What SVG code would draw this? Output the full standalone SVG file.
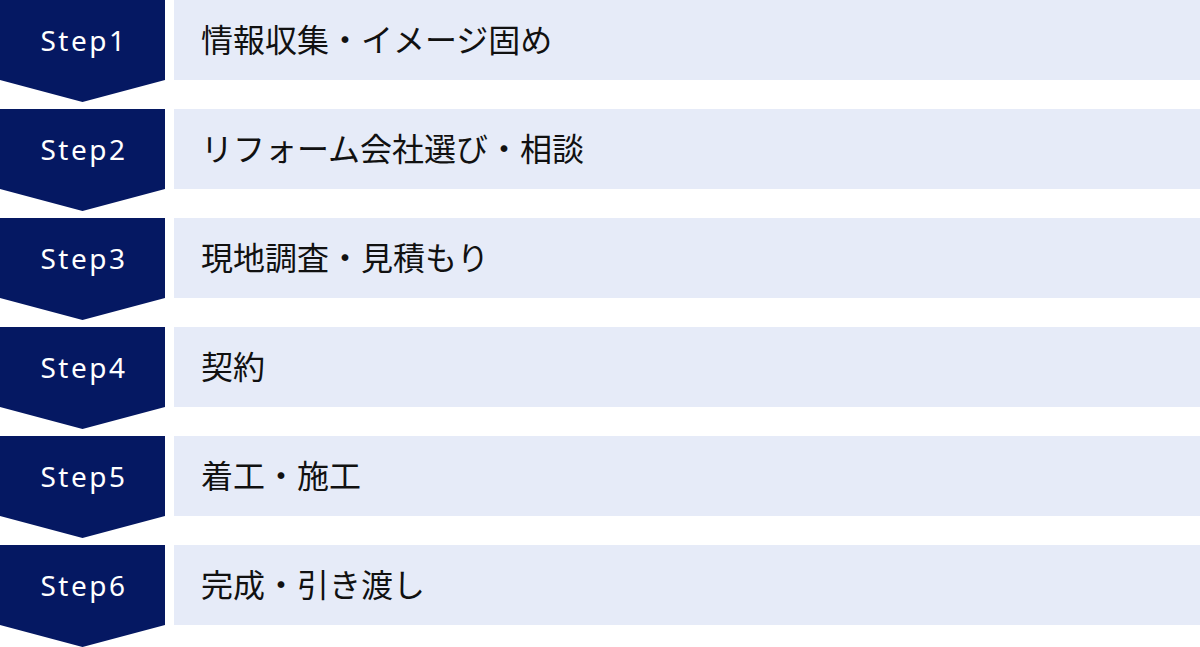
<svg xmlns="http://www.w3.org/2000/svg" width="1200" height="647" viewBox="0 0 1200 647">
<defs>
<style>
.badge{fill:#051862}
.box{fill:#E6EBF8}
.st{font-family:"Noto Sans",sans-serif;font-size:28px;fill:#FFFFFF;text-anchor:middle;letter-spacing:2.5px}
.lb{font-family:"Noto Sans CJK JP",sans-serif;font-size:32px;fill:#111111}
</style>
<path id="chev" d="M0 0H165V80L82.5 102L0 80Z"/>
</defs>
<g id="step1" transform="translate(0,0)">
<use href="#chev" class="badge"/><rect class="box" x="174" y="0" width="1026" height="80"/>
<text class="st" x="84" y="50.5">Step1</text><text class="lb" x="201" y="51.5">情報収集・イメージ固め</text>
</g>
<g id="step2" transform="translate(0,109)">
<use href="#chev" class="badge"/><rect class="box" x="174" y="0" width="1026" height="80"/>
<text class="st" x="84" y="50.5">Step2</text><text class="lb" x="201" y="51.5">リフォーム会社選び・相談</text>
</g>
<g id="step3" transform="translate(0,218)">
<use href="#chev" class="badge"/><rect class="box" x="174" y="0" width="1026" height="80"/>
<text class="st" x="84" y="50.5">Step3</text><text class="lb" x="201" y="51.5">現地調査・見積もり</text>
</g>
<g id="step4" transform="translate(0,327)">
<use href="#chev" class="badge"/><rect class="box" x="174" y="0" width="1026" height="80"/>
<text class="st" x="84" y="50.5">Step4</text><text class="lb" x="201" y="51.5">契約</text>
</g>
<g id="step5" transform="translate(0,436)">
<use href="#chev" class="badge"/><rect class="box" x="174" y="0" width="1026" height="80"/>
<text class="st" x="84" y="50.5">Step5</text><text class="lb" x="201" y="51.5">着工・施工</text>
</g>
<g id="step6" transform="translate(0,545)">
<use href="#chev" class="badge"/><rect class="box" x="174" y="0" width="1026" height="80"/>
<text class="st" x="84" y="50.5">Step6</text><text class="lb" x="201" y="51.5">完成・引き渡し</text>
</g>
<g id="connectors"/>
</svg>
